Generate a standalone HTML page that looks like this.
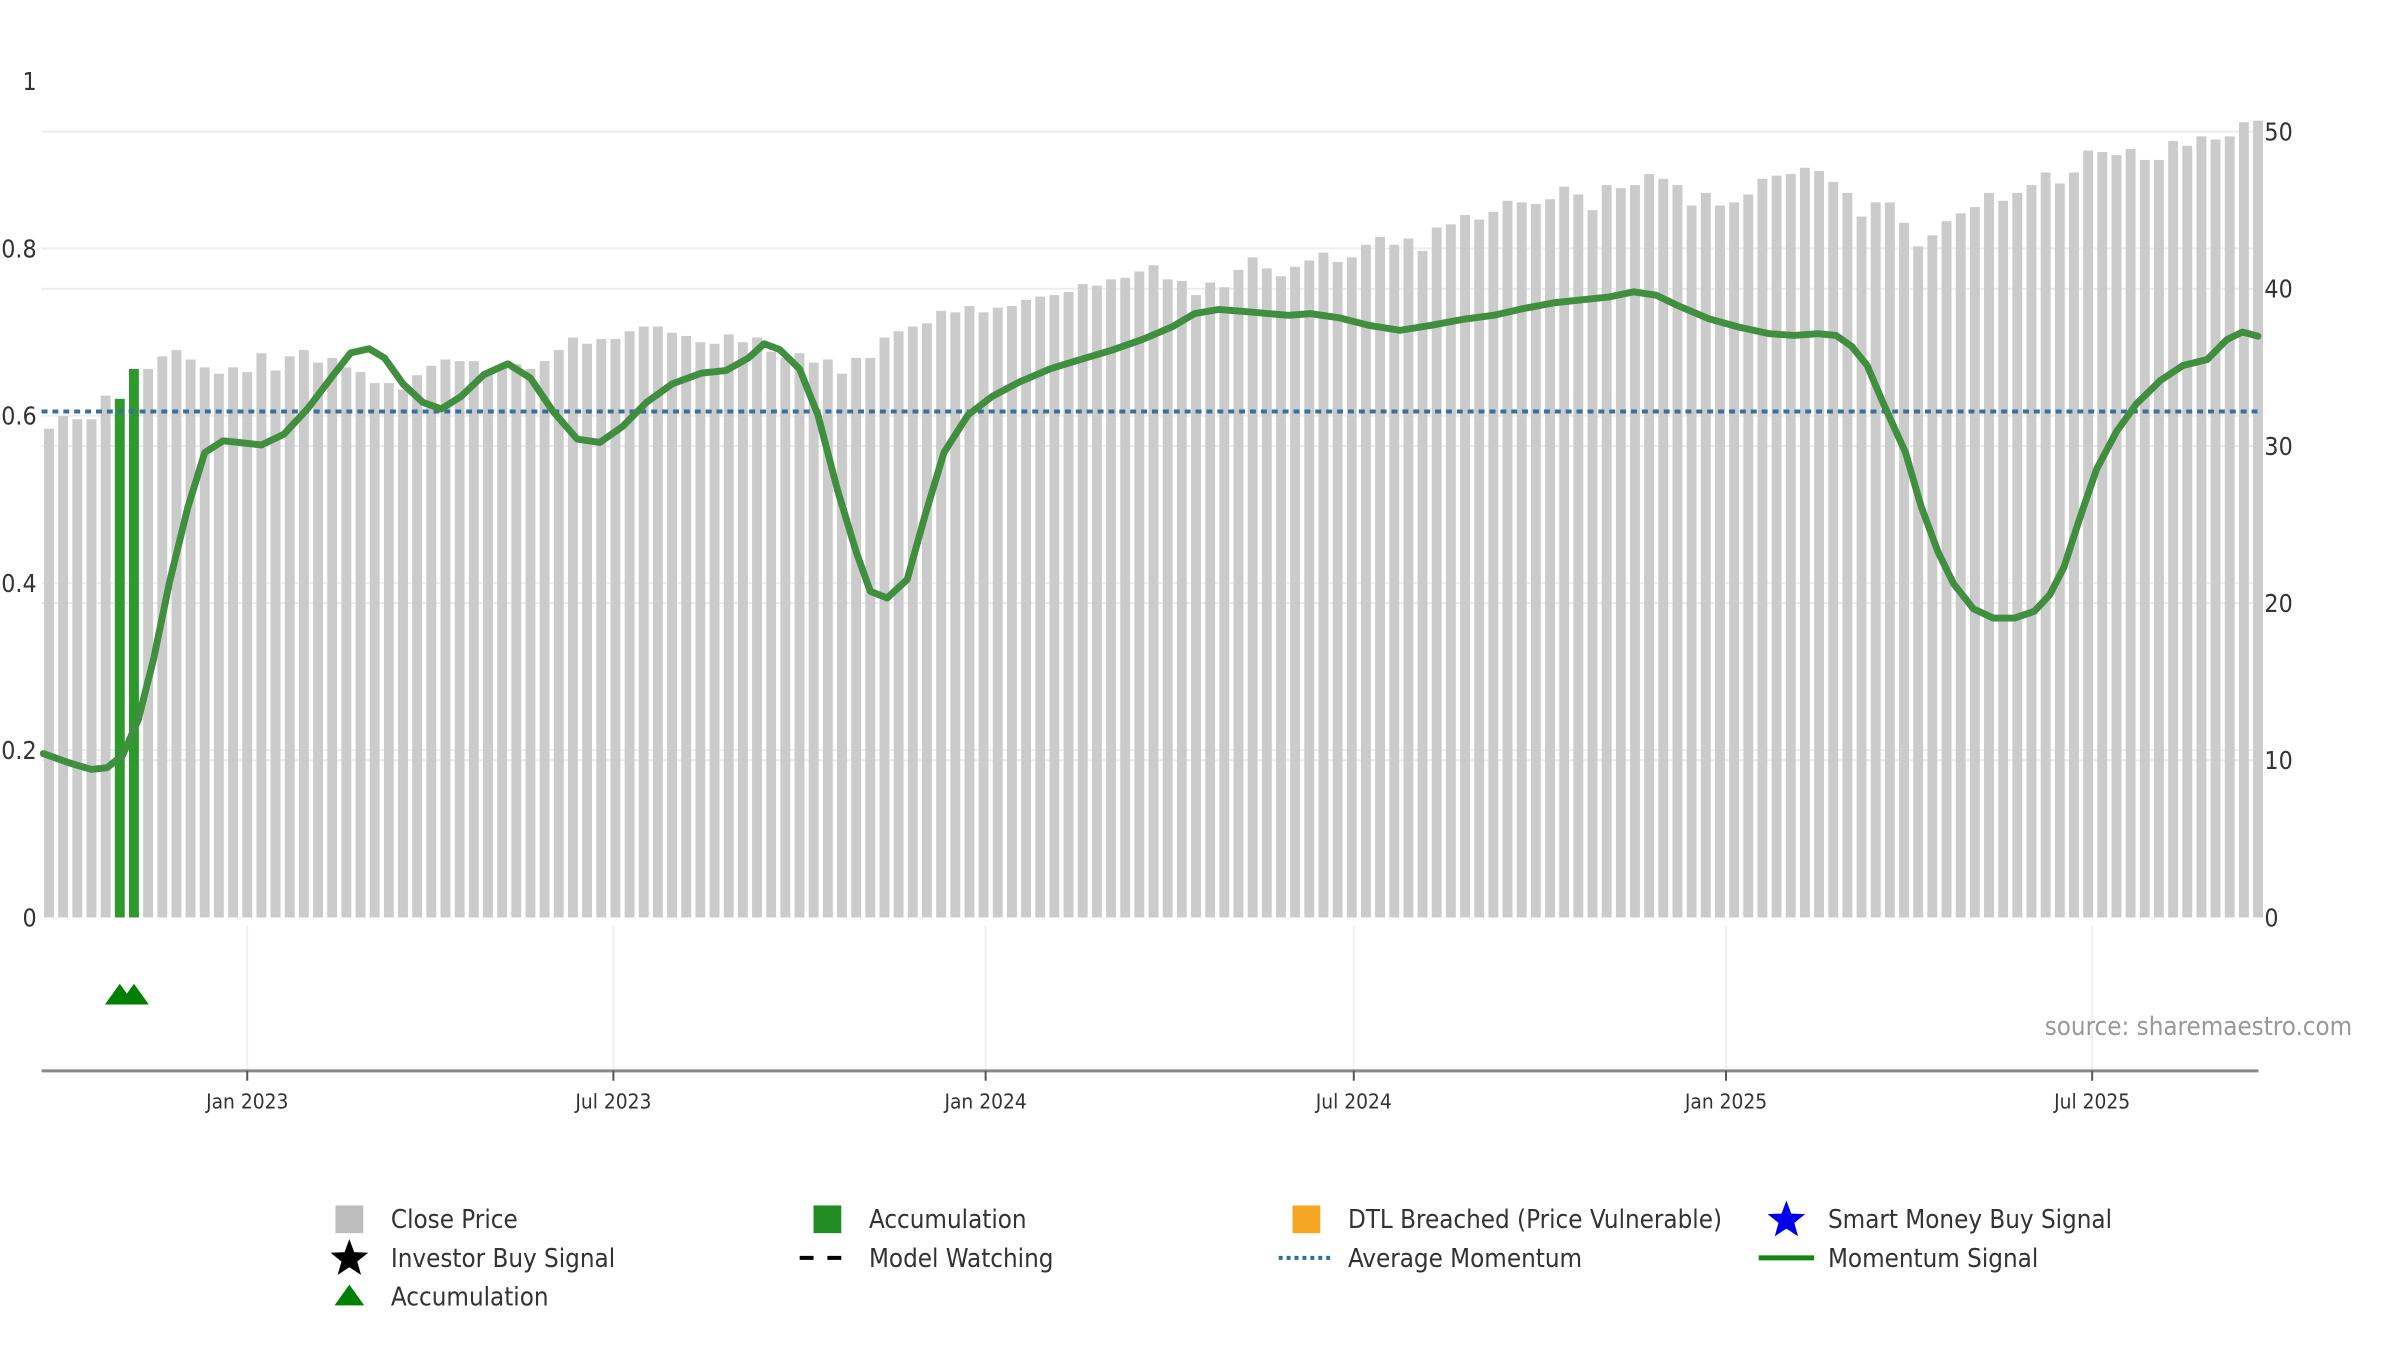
<!DOCTYPE html>
<html><head><meta charset="utf-8">
<style>
html,body{margin:0;padding:0;background:#fff;}
svg{display:block;font-family:"DejaVu Sans Condensed","DejaVu Sans","Liberation Sans",sans-serif;}
</style></head>
<body>
<svg id="chart" width="2400" height="1350" viewBox="0 0 2400 1350" xmlns="http://www.w3.org/2000/svg">
<g transform="scale(0.9897)">
<g id="grid"></g>
<g id="bars"></g>
<g id="lines"></g>
<g id="axes"></g>
<g id="markers"></g>
<text x="2066" y="1046" font-size="26" fill="#999">source: sharemaestro.com</text>
<g id="legend"></g>
</g>
</svg>
<script>
const startDate = "2022-09-25";
const closePrices = [31.1,31.9,31.7,31.7,33.2,33.0,34.9,34.9,35.7,36.1,35.5,35.0,34.6,35.0,34.7,35.9,34.8,35.7,36.1,35.3,35.6,35.0,34.7,34.0,34.0,33.6,34.5,35.1,35.5,35.4,35.4,34.8,35.1,35.2,34.9,35.4,36.1,36.9,36.5,36.8,36.8,37.3,37.6,37.6,37.2,37.0,36.6,36.5,37.1,36.6,36.9,36.0,35.6,35.9,35.3,35.5,34.6,35.6,35.6,36.9,37.3,37.6,37.8,38.6,38.5,38.9,38.5,38.8,38.9,39.3,39.5,39.6,39.8,40.3,40.2,40.6,40.7,41.1,41.5,40.6,40.5,39.6,40.4,40.1,41.2,42.0,41.3,40.8,41.4,41.8,42.3,41.7,42.0,42.8,43.3,42.8,43.2,42.4,43.9,44.1,44.7,44.4,44.9,45.6,45.5,45.4,45.7,46.5,46.0,45.0,46.6,46.4,46.6,47.3,47.0,46.6,45.3,46.1,45.3,45.5,46.0,47.0,47.2,47.3,47.7,47.5,46.8,46.1,44.6,45.5,45.5,44.2,42.7,43.4,44.3,44.8,45.2,46.1,45.6,46.1,46.6,47.4,46.7,47.4,48.8,48.7,48.5,48.9,48.2,48.2,49.4,49.1,49.7,49.5,49.7,50.6,50.7];
const accumulationWeeks = [5,6];
const momentumWeeks = [-0.4,1.4,3.0,4.1,5.2,6.3,7.4,8.5,9.8,11.0,12.3,13.4,15.0,16.6,18.3,20.0,21.3,22.6,23.7,25.0,26.4,27.7,29.1,30.7,32.4,34.0,35.6,37.3,38.9,40.5,42.2,44.0,46.1,47.8,49.4,50.5,51.6,53.0,54.3,55.7,57.0,58.0,59.2,60.6,61.9,63.2,64.9,66.6,68.5,70.7,72.8,75.0,77.2,79.3,80.9,82.6,84.8,87.5,89.1,91.1,93.2,95.4,97.6,99.8,102.0,104.1,106.3,108.5,110.2,111.9,113.5,115.1,117.2,119.3,121.5,123.2,124.9,126.2,127.3,128.4,129.5,131.1,132.2,133.4,134.5,135.9,137.3,138.8,140.2,141.3,142.3,143.4,144.6,146.0,147.4,149.1,150.7,152.4,153.8,154.9,156.0];
const momentumValues = [0.196,0.185,0.177,0.179,0.194,0.236,0.310,0.400,0.490,0.556,0.570,0.568,0.565,0.578,0.609,0.647,0.675,0.680,0.669,0.638,0.616,0.608,0.623,0.649,0.662,0.645,0.605,0.572,0.568,0.587,0.616,0.638,0.651,0.654,0.669,0.686,0.679,0.656,0.601,0.510,0.437,0.390,0.382,0.404,0.483,0.556,0.601,0.623,0.640,0.656,0.667,0.678,0.691,0.706,0.722,0.727,0.724,0.720,0.722,0.717,0.708,0.702,0.708,0.715,0.720,0.728,0.735,0.739,0.742,0.748,0.744,0.731,0.716,0.706,0.698,0.696,0.698,0.696,0.683,0.660,0.616,0.556,0.492,0.437,0.399,0.369,0.358,0.358,0.366,0.386,0.419,0.477,0.536,0.581,0.614,0.642,0.660,0.667,0.691,0.700,0.695];
const avgMomentum = 0.605;
const leftTicks = [0,0.2,0.4,0.6,0.8,1];
const leftTickLabels = ["0","0.2","0.4","0.6","0.8","1"];
const rightTicks = [0,10,20,30,40,50];
const dateTicks = ["2023-01-01","2023-07-01","2024-01-01","2024-07-01","2025-01-01","2025-07-01"];
const dateTickLabels = ["Jan 2023","Jul 2023","Jan 2024","Jul 2024","Jan 2025","Jul 2025"];

const NS="http://www.w3.org/2000/svg";
const X0=42, X1=2282, YB=927, YT_L=82, YT_R=133;
const day0 = Date.parse(startDate);
const PX_PER_DAY = 2.044, X_ORIGIN = 49.5;
const WEEK0 = Date.parse("2022-09-28");
function xDate(s){return X_ORIGIN + (Date.parse(s)-day0)/86400000*PX_PER_DAY;}
function xWeek(w){return X_ORIGIN + w*7*PX_PER_DAY;}
function yL(v){return YB-(YB-YT_L)*v;}
function yR(v){return YB-(YB-YT_R)*v/50;}
function mk(tag,attrs,parent){const e=document.createElementNS(NS,tag);for(const k in attrs)e.setAttribute(k,attrs[k]);parent.appendChild(e);return e;}

const grid=document.getElementById('grid');
rightTicks.forEach(t=>{if(t===0)return;
 const l=mk('line',{x1:X0,x2:X1,y1:yR(t),y2:yR(t),stroke:'#e9ecf0','stroke-width':2},grid);
 
 });
leftTicks.forEach(t=>{if(t===0||t===1)return;
 const l=mk('line',{x1:X0,x2:X1,y1:yL(t),y2:yL(t),stroke:'#eceff3','stroke-width':2},grid);
 
 });
dateTicks.forEach(d=>{const x=xDate(d);
 const l=mk('line',{x1:x,x2:x,y1:935,y2:1082,stroke:'#eef0f2','stroke-width':2},grid);
 
 });

const bars=document.getElementById('bars');
const BW=10;
closePrices.forEach((p,i)=>{const x=xWeek(i);const acc=accumulationWeeks.includes(i);
 const r=mk('rect',{x:x-BW/2,y:yR(p),width:BW,height:YB-yR(p),fill:acc?'#2e9a2e':'#cbcbcb'},bars);
 
 });

const lines=document.getElementById('lines');
const avg=mk('line',{x1:X0,x2:X1,y1:yL(avgMomentum),y2:yL(avgMomentum),stroke:'#3a6f9a','stroke-width':4,'stroke-dasharray':'6 5'},lines);


let d='';momentumWeeks.forEach((w,i)=>{d+=(i?'L':'M')+xWeek(w).toFixed(1)+' '+yL(momentumValues[i]).toFixed(1)+' ';});
const ml=mk('path',{d:d,fill:'none',stroke:'#3f8f3f','stroke-width':7,'stroke-linejoin':'round','stroke-linecap':'round'},lines);



const axes=document.getElementById('axes');
leftTicks.forEach((t,i)=>{const tx=mk('text',{x:37,y:yL(t)+9,'text-anchor':'end','font-size':25,fill:'#333'},axes);tx.textContent=leftTickLabels[i];
 
 });
rightTicks.forEach(t=>{const tx=mk('text',{x:2288,y:yR(t)+9,'font-size':25,fill:'#333'},axes);tx.textContent=String(t);
 
 });
const xa=mk('line',{x1:X0,x2:X1,y1:1082,y2:1082,stroke:'#888','stroke-width':3},axes);


dateTicks.forEach((dt,i)=>{const x=xDate(dt);
 const tk=mk('line',{x1:x,x2:x,y1:1082,y2:1092,stroke:'#555','stroke-width':2},axes);
 
 
 const tx=mk('text',{x:x,y:1120,'text-anchor':'middle','font-size':21,fill:'#333'},axes);tx.textContent=dateTickLabels[i];
 
 });

const markers=document.getElementById('markers');
accumulationWeeks.forEach(w=>{const x=xWeek(w);
 const t=mk('polygon',{points:`${x-15},1015 ${x},994 ${x+15},1015`,fill:'#008000'},markers);
 
 });

const lg=document.getElementById('legend');
function star(cx,cy,r,fill){let p='';for(let k=0;k<10;k++){const a=-Math.PI/2+k*Math.PI/5;const rr=k%2?r*0.42:r;p+=(cx+rr*Math.cos(a)).toFixed(1)+','+(cy+rr*Math.sin(a)).toFixed(1)+' ';}return mk('polygon',{points:p,fill:fill},lg);}
const legendItems=[
 {x:353,y:1232,label:'Close Price',icon:'graysq',name:'legend-close-price'},
 {x:836,y:1232,label:'Accumulation',icon:'greensq',name:'legend-accumulation-bar'},
 {x:1320,y:1232,label:'DTL Breached (Price Vulnerable)',icon:'orangesq',name:'legend-dtl-breached'},
 {x:1805,y:1232,label:'Smart Money Buy Signal',icon:'bluestar',name:'legend-smart-money'},
 {x:353,y:1271,label:'Investor Buy Signal',icon:'blackstar',name:'legend-investor-buy'},
 {x:836,y:1271,label:'Model Watching',icon:'dash',name:'legend-model-watching'},
 {x:1320,y:1271,label:'Average Momentum',icon:'dot',name:'legend-average-momentum'},
 {x:1805,y:1271,label:'Momentum Signal',icon:'line',name:'legend-momentum-signal'},
 {x:353,y:1310,label:'Accumulation',icon:'tri',name:'legend-accumulation-marker'}];
legendItems.forEach(it=>{const g=mk('g',{},lg);
 
 
 const cx=it.x,cy=it.y;let ic;
 if(it.icon==='graysq')ic=mk('rect',{x:cx-14,y:cy-14,width:28,height:28,fill:'#bdbdbd'},g);
 if(it.icon==='greensq')ic=mk('rect',{x:cx-14,y:cy-14,width:28,height:28,fill:'#228b22'},g);
 if(it.icon==='orangesq')ic=mk('rect',{x:cx-14,y:cy-14,width:28,height:28,fill:'#f5a623'},g);
 if(it.icon==='bluestar'){ic=star(cx,cy+1,20,'#0000ee');g.appendChild(ic);}
 if(it.icon==='blackstar'){ic=star(cx,cy+1,20,'#000');g.appendChild(ic);}
 if(it.icon==='dash')ic=mk('line',{x1:cx-28,x2:cx+28,y1:cy,y2:cy,stroke:'#000','stroke-width':4,'stroke-dasharray':'14 14'},g);
 if(it.icon==='dot')ic=mk('line',{x1:cx-28,x2:cx+28,y1:cy,y2:cy,stroke:'#2e6e9e','stroke-width':4,'stroke-dasharray':'4 4'},g);
 if(it.icon==='line')ic=mk('line',{x1:cx-28,x2:cx+28,y1:cy,y2:cy,stroke:'#118811','stroke-width':5},g);
 if(it.icon==='tri')ic=mk('polygon',{points:`${cx-15},${cy+9} ${cx},${cy-12} ${cx+15},${cy+9}`,fill:'#008000'},g);
 
 
 const tx=mk('text',{x:cx+42,y:cy+9,'font-size':26,fill:'#333'},g);tx.textContent=it.label;
 
 });
</script>
</body></html>
